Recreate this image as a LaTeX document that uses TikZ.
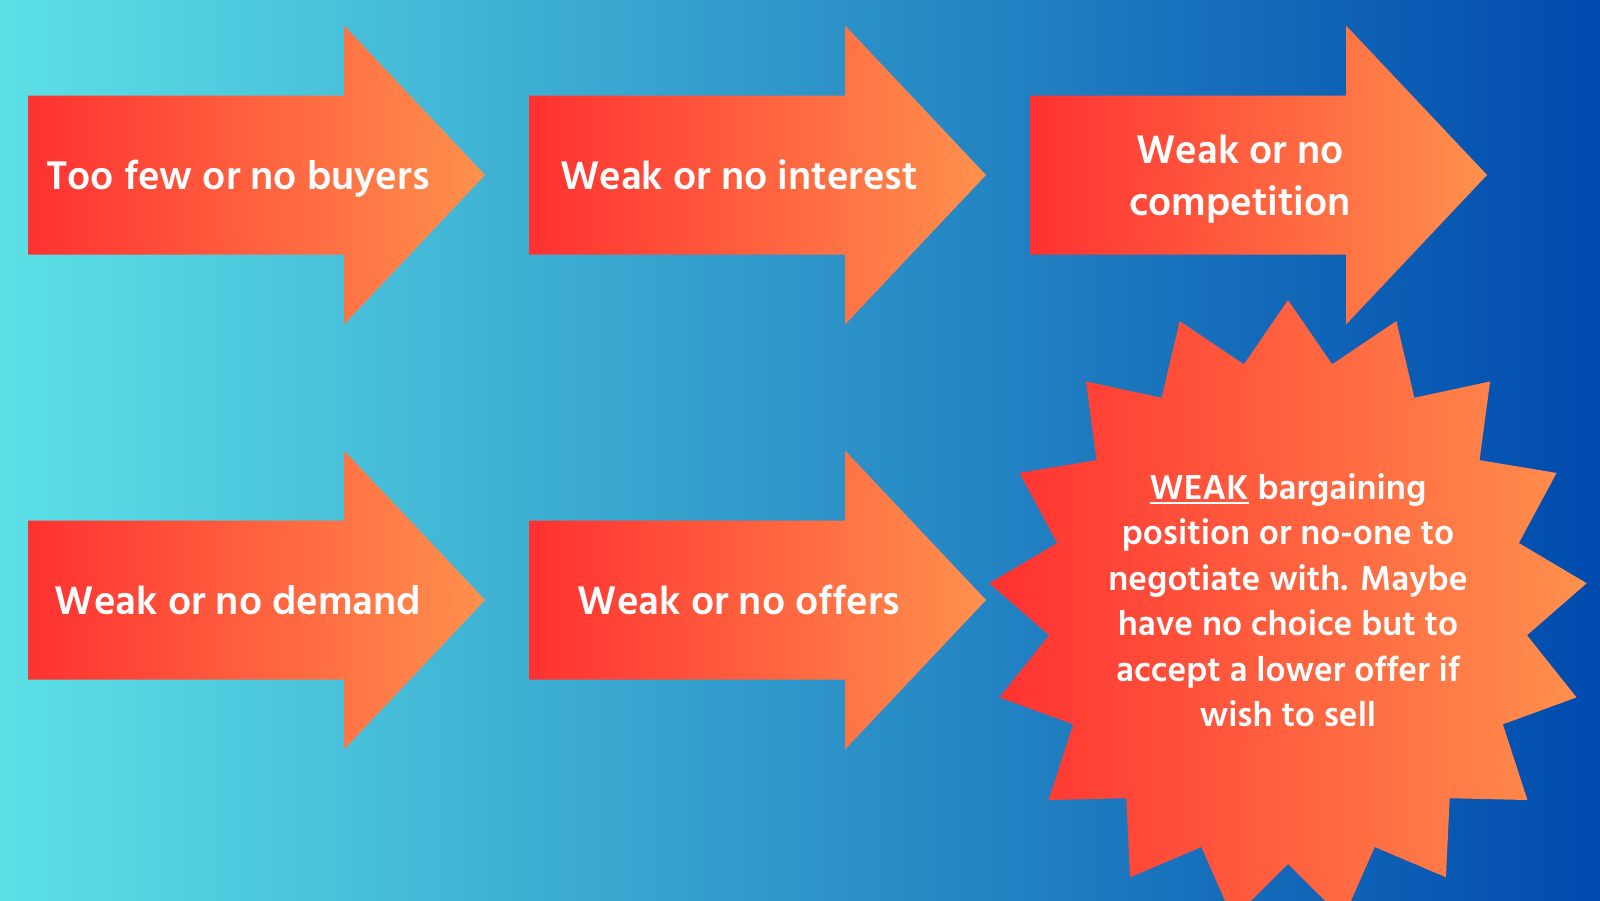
\documentclass[tikz,border=0pt]{standalone}
\usepackage{fontspec}
\setmainfont{Hind Madurai}
\usepackage{xcolor}
\definecolor{fondoizq}{HTML}{5CE1E6}
\definecolor{fondoder}{HTML}{004AAD}
\definecolor{rojo}{HTML}{FF3131}
\definecolor{naranja}{HTML}{FF914D}
\newcommand{\subrayado}[1]{\setbox0\hbox{#1}\rlap{\rule[-5pt]{\wd0}{2pt}}\box0\relax}

\begin{document}
\begin{tikzpicture}[x=1pt,y=-1pt,
        flecha/.style={left color=rojo,right color=naranja},
        texto/.style={text=white,align=center,text depth=0pt,font=\fontsize{41}{52}\selectfont\bfseries}]
        % Fondo
        \shade[left color=fondoizq,right color=fondoder] (0,0) rectangle (1600,900);
        \useasboundingbox (0,0) rectangle (1600,900);

        % Flechas: esquina izquierda, centro, nombre y texto
        \foreach \x/\y/\nombre/\txt in {28/175/compradores/{Too few or no buyers},
                529/175/interes/{Weak or no interest},
                1030/175/competencia/{Weak or no\\competition},
                28/600/demanda/{Weak or no demand},
                529/600/ofertas/{Weak or no offers}}
        {
            \begin{scope}[shift={(\x,\y)}]
                \shade[flecha] (0,-79.5) -- (316,-79.5) -- (316,-149.5) -- (457,0)
                    -- (316,149.5) -- (316,79.5) -- (0,79.5) -- cycle;
                \node[texto] (\nombre) at (210,0) {\txt};
            \end{scope}
        }

        % Estrella de 17 puntas
        \begin{scope}[shift={(1288,612)}]
            \shade[flecha] (0,-312) \foreach \k in {0,...,16} {
                -- ({240*cos(90-(\k+0.5)*360/17)},{-252*sin(90-(\k+0.5)*360/17)})
                -- ({300*cos(90-(\k+1)*360/17)},{-312*sin(90-(\k+1)*360/17)})
            } -- cycle;
        \end{scope}
        \node[texto,text depth=,font=\fontsize{35.5}{45.5}\selectfont\bfseries] (posicion) at (1288,600)
            {\subrayado{WEAK} bargaining\\position or no-one to\\negotiate with. Maybe\\
             have no choice but to\\accept a lower offer if\\wish to sell};
\end{tikzpicture}
\end{document}
